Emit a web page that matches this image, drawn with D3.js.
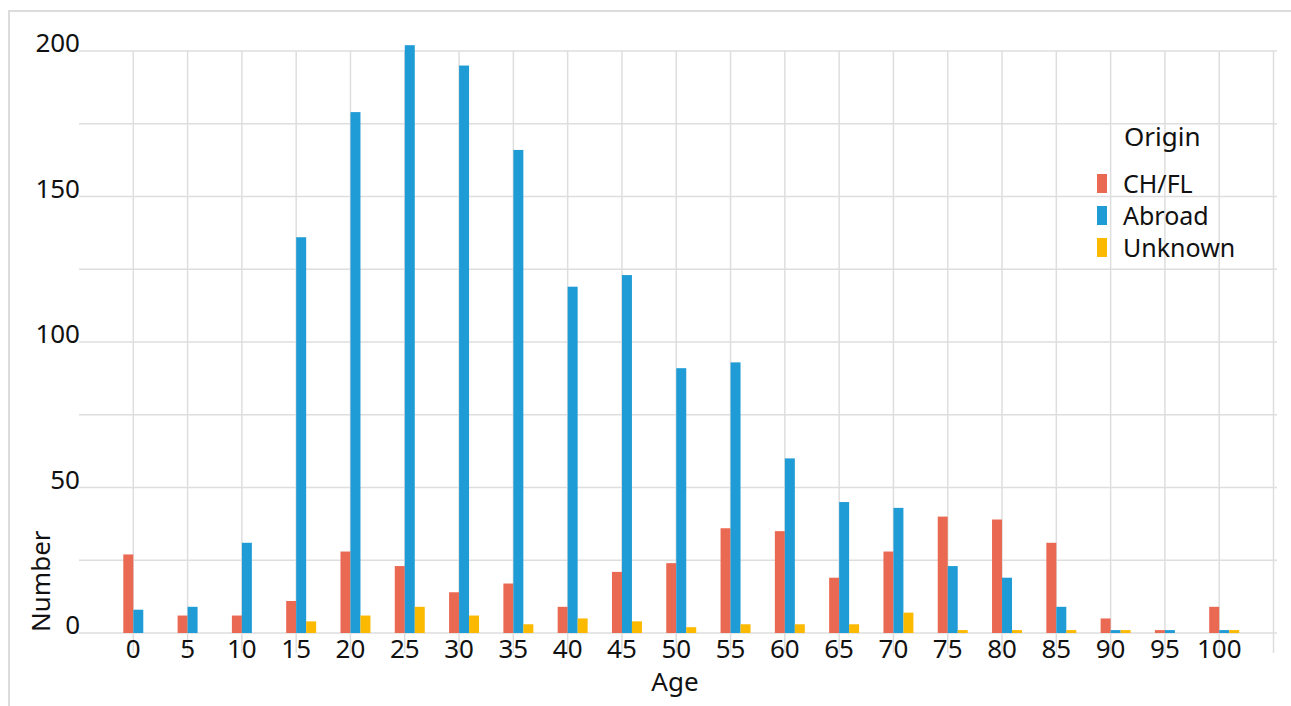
<!DOCTYPE html>
<html><head><meta charset="utf-8">
<script src="https://cdn.jsdelivr.net/npm/d3@7"></script>
<style>
html,body{margin:0;padding:0;background:#fff;}
svg{display:block;}
text{font-family:"Noto Sans",sans-serif;fill:#111;}
</style></head>
<body>
<script>
const ages = [0,5,10,15,20,25,30,35,40,45,50,55,60,65,70,75,80,85,90,95,100];
const chfl    = [27,6,6,11,28,23,14,17,9,21,24,36,35,19,28,40,39,31,5,1,9];
const abroad  = [8,9,31,136,179,202,195,166,119,123,91,93,60,45,43,23,19,9,1,1,1];
const unknown = [0,0,0,4,6,9,6,3,5,4,2,3,3,3,7,1,1,1,1,0,1];
const seriesNames = ["CH/FL","Abroad","Unknown"];
const seriesColors = ["#ea6952","#1f9cd5","#fbb900"];
const yTicks = [0,50,100,150,200];
const yGrid = [0,25,50,75,100,125,150,175,200];
const xGrid = d3.range(0,106,5);

const W=1291,H=706;
const svg = d3.select("body").append("svg").attr("width",W).attr("height",H);

// frame
svg.append("rect").attr("x",9).attr("y",11).attr("width",W+20).attr("height",H+20)
  .attr("fill","none").attr("stroke","#dcdcdc").attr("stroke-width",2);

const x = d3.scaleLinear().domain([-5,105]).range([79,1273.5]);
const y = d3.scaleLinear().domain([0,200]).range([633,51]);

// horizontal grid
svg.append("g").selectAll("line").data(yGrid).join("line")
  .attr("x1",79).attr("x2",1277).attr("y1",d=>y(d)).attr("y2",d=>y(d))
  .attr("stroke","#dedede").attr("stroke-width",1.5);
// vertical grid
svg.append("g").selectAll("line").data(xGrid).join("line")
  .attr("x1",d=>x(d)).attr("x2",d=>x(d)).attr("y1",y(200)).attr("y2",653)
  .attr("stroke","#dedede").attr("stroke-width",1.5);

// bars
const data = [chfl, abroad, unknown];
const bw = x(0.92)-x(0);
const offset = d3.scaleBand().domain(seriesNames).range([-bw, 2*bw]);
seriesNames.forEach((s,i)=>{
  const rows = ages.map((a,j)=>({a,v:data[i][j]})).filter(d=>d.v>0);
  svg.append("g").selectAll("rect").data(rows)
   .join("rect")
   .attr("x",d=>x(d.a)+offset(s)).attr("width",offset.bandwidth())
   .attr("y",d=>y(d.v)).attr("height",d=>y(0)-y(d.v))
   .attr("fill",seriesColors[i]);
});

// y tick labels
svg.append("g").selectAll("text").data(yTicks).join("text")
  .attr("x",80).attr("y",d=>y(d)+1).attr("text-anchor","end")
  .style("font-size","26px").text(d=>d);
// x tick labels
svg.append("g").selectAll("text").data(ages).join("text")
  .attr("x",d=>x(d)).attr("y",658).attr("text-anchor","middle")
  .style("font-size","26px").text(d=>d);

// axis titles
svg.append("text").attr("x",675).attr("y",691).attr("text-anchor","middle")
  .style("font-size","26px").text("Age");
svg.append("text").attr("transform","translate(50,632) rotate(-90)")
  .attr("text-anchor","start").style("font-size","26px").text("Number");

// legend
const lg = svg.append("g");
lg.append("text").attr("x",1124).attr("y",146).style("font-size","26px").text("Origin");
seriesNames.forEach((s,i)=>{
  lg.append("rect").attr("x",1097).attr("y",174+i*32).attr("width",10).attr("height",19)
    .attr("fill",seriesColors[i]);
  lg.append("text").attr("x",1123).attr("y",193+i*32).style("font-size","25px").text(s);
});
</script>
</body></html>
